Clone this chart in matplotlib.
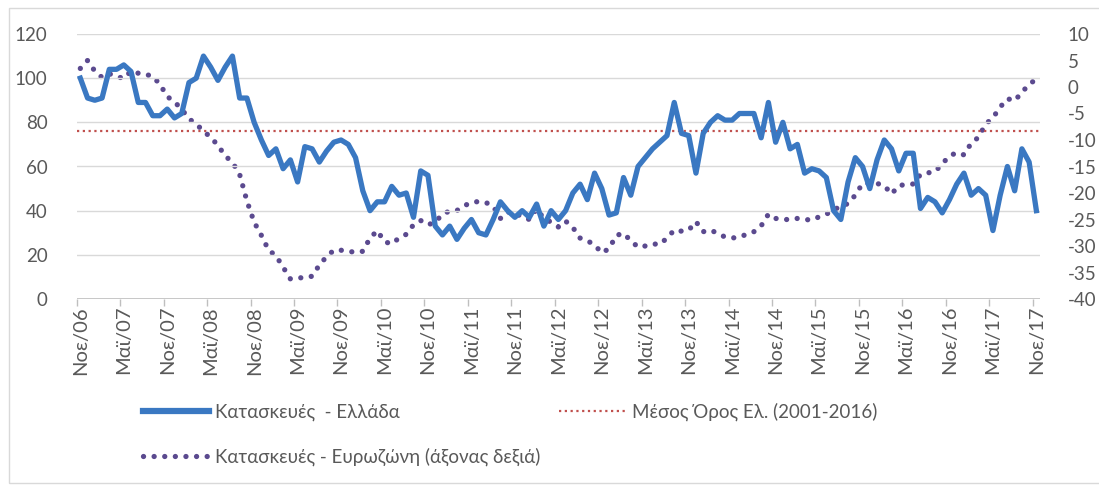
import matplotlib
matplotlib.use('Agg')
import matplotlib.pyplot as plt
from matplotlib.lines import Line2D
from matplotlib.patches import Rectangle

plt.rcParams['font.family'] = ['Lato', 'DejaVu Sans']
plt.rcParams['axes.unicode_minus'] = False

# ---------------- data ----------------
greece = [100, 91, 90, 91, 104, 104, 106, 103, 89, 89,
          83, 83, 86, 82, 84, 98, 100, 110, 105, 99,
          105, 110, 91, 91, 80, 72, 65, 68, 59, 63,
          53, 69, 68, 62, 67, 71, 72, 70, 64, 49,
          40, 44, 44, 51, 47, 48, 37, 58, 56, 33,
          29, 33, 27, 32, 36, 30, 29, 36, 44, 40,
          37, 40, 37, 43, 33, 40, 36, 40, 48, 52,
          45, 57, 50, 38, 39, 55, 47, 60, 64, 68,
          71, 74, 89, 75, 74, 57, 75, 80, 83, 81,
          81, 84, 84, 84, 73, 89, 71, 80, 68, 70,
          57, 59, 58, 55, 40, 36, 53, 64, 60, 50,
          63, 72, 68, 58, 66, 66, 41, 46, 44, 39,
          45, 52, 57, 47, 50, 47, 31, 47, 60, 49,
          68, 62, 40]

eurozone = [3.5, 5.0, 3.0, 1.8, 2.5, 2.0, 1.6, 3.0, 2.6, 2.4,
            2.0, 0.5, -1.8, -2.8, -4.2, -6.0, -7.0, -8.3, -9.5, -11.0,
            -13.0, -14.2, -16.5, -21.5, -25.5, -28.0, -30.8, -31.8, -34.0, -36.2,
            -36.0, -36.0, -35.7, -33.6, -32.0, -30.8, -30.8, -31.0, -31.2, -31.0,
            -28.5, -27.1, -29.2, -29.6, -28.5, -27.8, -26.0, -25.2, -26.0, -25.5,
            -24.0, -23.4, -23.3, -22.4, -21.8, -21.6, -21.8, -22.5, -24.8, -23.6,
            -23.8, -24.5, -25.0, -23.0, -24.8, -25.5, -26.4, -25.3, -26.5, -28.5,
            -29.0, -29.8, -31.3, -30.5, -28.0, -27.6, -29.0, -30.2, -30.0, -29.6,
            -29.7, -28.5, -27.0, -27.2, -27.0, -25.4, -27.3, -27.0, -27.6, -28.3,
            -28.5, -28.3, -27.8, -27.3, -26.2, -24.0, -24.8, -25.0, -25.0, -24.8,
            -25.0, -25.1, -24.5, -24.0, -23.2, -22.5, -22.0, -20.4, -18.2, -18.2,
            -18.2, -18.6, -20.2, -18.6, -18.4, -18.3, -16.5, -16.2, -16.0, -14.5,
            -13.0, -12.4, -12.8, -10.6, -9.5, -7.0, -5.8, -3.8, -2.2, -2.6,
            -1.0, 0.5, 1.5]

greece_mean = 76

tick_labels = ['Νοε/06', 'Μαϊ/07', 'Νοε/07', 'Μαϊ/08', 'Νοε/08', 'Μαϊ/09',
               'Νοε/09', 'Μαϊ/10', 'Νοε/10', 'Μαϊ/11', 'Νοε/11', 'Μαϊ/12',
               'Νοε/12', 'Μαϊ/13', 'Νοε/13', 'Μαϊ/14', 'Νοε/14', 'Μαϊ/15',
               'Νοε/15', 'Μαϊ/16', 'Νοε/16', 'Μαϊ/17', 'Νοε/17']

label_greece = 'Κατασκευές  - Ελλάδα'
label_mean = 'Μέσος Όρος Ελ. (2001-2016)'
label_euro = 'Κατασκευές - Ευρωζώνη (άξονας δεξιά)'

# ---------------- styling ----------------
W, H = 1099, 486
fig = plt.figure(figsize=(W / 100, H / 100), dpi=100)
fig.patch.set_facecolor('white')

# chart-area border
fig.patches.append(Rectangle((9 / W, 1 - 483 / H), 1.2, (483 - 8) / H,
                             transform=fig.transFigure, fill=False,
                             edgecolor='#d9d9d9', linewidth=1.0, zorder=0))

left, right, top, bottom = 76.7, 1040, 34, 299
ax = fig.add_axes([left / W, 1 - bottom / H, (right - left) / W, (bottom - top) / H])
ax2 = ax.twinx()

blue = '#3A78C2'
purple = '#5B4A8F'
red = '#C0504D'
grey_txt = '#595959'

n = len(greece)
x = list(range(n))

ax.set_xlim(-0.5, n - 0.5)
ax.set_ylim(0, 120)
ax.set_yticks(range(0, 121, 20))
ax.grid(axis='y', color='#d9d9d9', linewidth=1.0)
ax.set_axisbelow(True)

ax2.set_ylim(-40, 10)
ax2.set_yticks(range(-40, 11, 5))

for a in (ax, ax2):
    for s in ('top', 'left', 'right', 'bottom'):
        a.spines[s].set_visible(False)
    a.tick_params(axis='y', length=0, labelsize=13.5, labelcolor=grey_txt)
ax.tick_params(axis='y', pad=21)
ax2.tick_params(axis='y', pad=20)
ax.axhline(0, color='#bfbfbf', linewidth=1.2, zorder=1)

# x ticks: marks between categories, labels at category centres
ax.set_xticks([i - 0.5 for i in range(0, n, 6)])
ax.set_xticklabels([])
ax.tick_params(axis='x', which='major', length=5, color='#bfbfbf', width=1)
ax.set_xticks(list(range(0, n, 6)), minor=True)
ax.set_xticklabels(tick_labels, minor=True, rotation=90, fontsize=14.5,
                   color=grey_txt)
ax.tick_params(axis='x', which='minor', length=0, pad=5)

# lines
ax.plot(x, greece, color=blue, linewidth=3.8, solid_joinstyle='round',
        zorder=4)
ax.plot([-0.5, n - 0.5], [greece_mean, greece_mean], color=red,
        linewidth=1.6, linestyle=(0, (1, 1.6)), zorder=3)
ax2.plot(x, eurozone, color=purple, linewidth=3.8,
         linestyle=(0, (0.01, 2.0)), dash_capstyle='round', zorder=3)
ax2.set_zorder(ax.get_zorder() - 1)
ax.patch.set_visible(False)

# legend
h_greece = Line2D([], [], color=blue, linewidth=4.5)
h_euro = Line2D([], [], color=purple, linewidth=3.8,
                linestyle=(0, (0.01, 2.0)), dash_capstyle='round')
h_mean = Line2D([], [], color=red, linewidth=1.6, linestyle=(0, (1, 1.6)))
leg = fig.legend([h_greece, h_euro, h_mean], [label_greece, label_euro, label_mean],
                 ncol=2, loc='upper left', bbox_to_anchor=(143 / W, 1 - 403 / H),
                 frameon=False, fontsize=13.5, handlelength=3.5,
                 handletextpad=0.35, labelspacing=1.4, columnspacing=1.0,
                 borderaxespad=0, borderpad=0)
for t in leg.get_texts():
    t.set_color(grey_txt)

fig.savefig('out.png', dpi=100, facecolor='white')
